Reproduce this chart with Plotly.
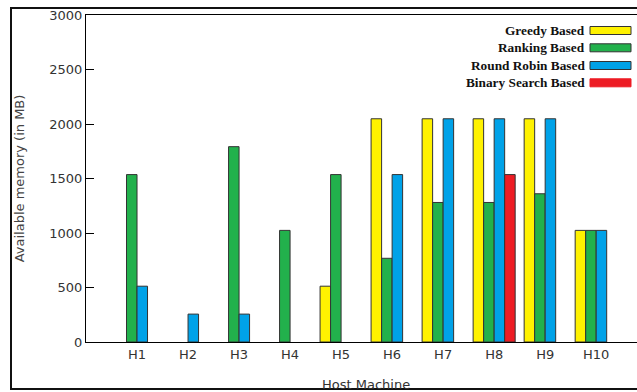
import plotly.graph_objects as go

# Host machines and the memory left on each one, per placement strategy (MB)
hosts = ["H1", "H2", "H3", "H4", "H5", "H6", "H7", "H8", "H9", "H10"]
greedy = [None, None, None, None, 512, 2048, 2048, 2048, 2048, 1024]
ranking = [1536, None, 1792, 1024, 1536, 768, 1280, 1280, 1360, 1024]
round_robin = [512, 256, 256, None, None, 1536, 2048, 2048, 2048, 1024]
binary_search = [None, None, None, None, None, None, None, 1536, None, None]

series_names = ["Greedy Based", "Ranking Based", "Round Robin Based", "Binary Search Based"]
series_values = [greedy, ranking, round_robin, binary_search]
series_colors = ["#FFF200", "#22B14C", "#00A2E8", "#ED1C24"]
y_ticks = [0, 500, 1000, 1500, 2000, 2500, 3000]

W, H = 637, 392
L, R, T, B = 86, 0, 15, 50
pw, ph = W - L - R, H - T - B


def px_x(p):
    return (p - L) / pw


def px_y(p):
    return (H - B - p) / ph


fig = go.Figure()
for name, vals, col in zip(series_names, series_values, series_colors):
    fig.add_trace(go.Bar(
        x=hosts, y=vals, name=name,
        marker=dict(color=col, line=dict(color="#333333", width=1)),
        showlegend=False,
    ))

shapes = []
annotations = []

# legend: right-aligned bold serif labels with a swatch to their right
leg_y = [30.5, 47.8, 65.5, 82.8]
for name, col, yy in zip(series_names, series_colors, leg_y):
    edge = "#333333" if name != "Binary Search Based" else col
    shapes.append(dict(type="rect", xref="paper", yref="paper",
                       x0=px_x(590), x1=px_x(631), y0=px_y(yy + 4), y1=px_y(yy - 4),
                       fillcolor=col, line=dict(color=edge, width=1)))
    annotations.append(dict(text=name, xref="paper", yref="paper",
                            x=px_x(587), y=px_y(yy), xanchor="right", yanchor="middle",
                            showarrow=False,
                            font=dict(family="Liberation Serif", size=13.3, color="#111111",
                                      weight="bold")))

# outer frame around the whole figure
shapes.append(dict(type="rect", xref="paper", yref="paper",
                   x0=px_x(11), x1=px_x(645), y0=px_y(389), y1=px_y(8),
                   line=dict(color="#111111", width=2), fillcolor="rgba(0,0,0,0)",
                   layer="above"))

# x axis title
annotations.append(dict(text="Host Machine", xref="paper", yref="paper",
                        x=px_x(366), y=px_y(384), xanchor="center", yanchor="middle",
                        showarrow=False,
                        font=dict(family="DejaVu Sans", size=13, color="#333333")))

fig.update_layout(
    width=W, height=H,
    margin=dict(l=L, r=R, t=T, b=B),
    paper_bgcolor="white", plot_bgcolor="white",
    barmode="group", bargap=0.176, bargroupgap=0,
    font=dict(family="DejaVu Sans", size=13, color="#333333"),
    shapes=shapes, annotations=annotations,
    xaxis=dict(
        type="category", range=[-1, 9.8],
        showline=True, linecolor="black", linewidth=1, mirror=True,
        ticks="", showgrid=False, zeroline=False,
        tickfont=dict(family="DejaVu Sans", size=13, color="#333333"),
    ),
    yaxis=dict(
        range=[0, 3000], tickvals=y_ticks,
        showline=True, linecolor="black", linewidth=1, mirror=False,
        ticks="inside", ticklen=8, tickcolor="black",
        showgrid=False, zeroline=False,
        tickfont=dict(family="DejaVu Sans", size=13, color="#333333"),
        title=dict(text="Available memory (in MB)", standoff=21,
                   font=dict(family="DejaVu Sans", size=13, color="#444444")),
    ),
)

fig.write_html("out.html")
